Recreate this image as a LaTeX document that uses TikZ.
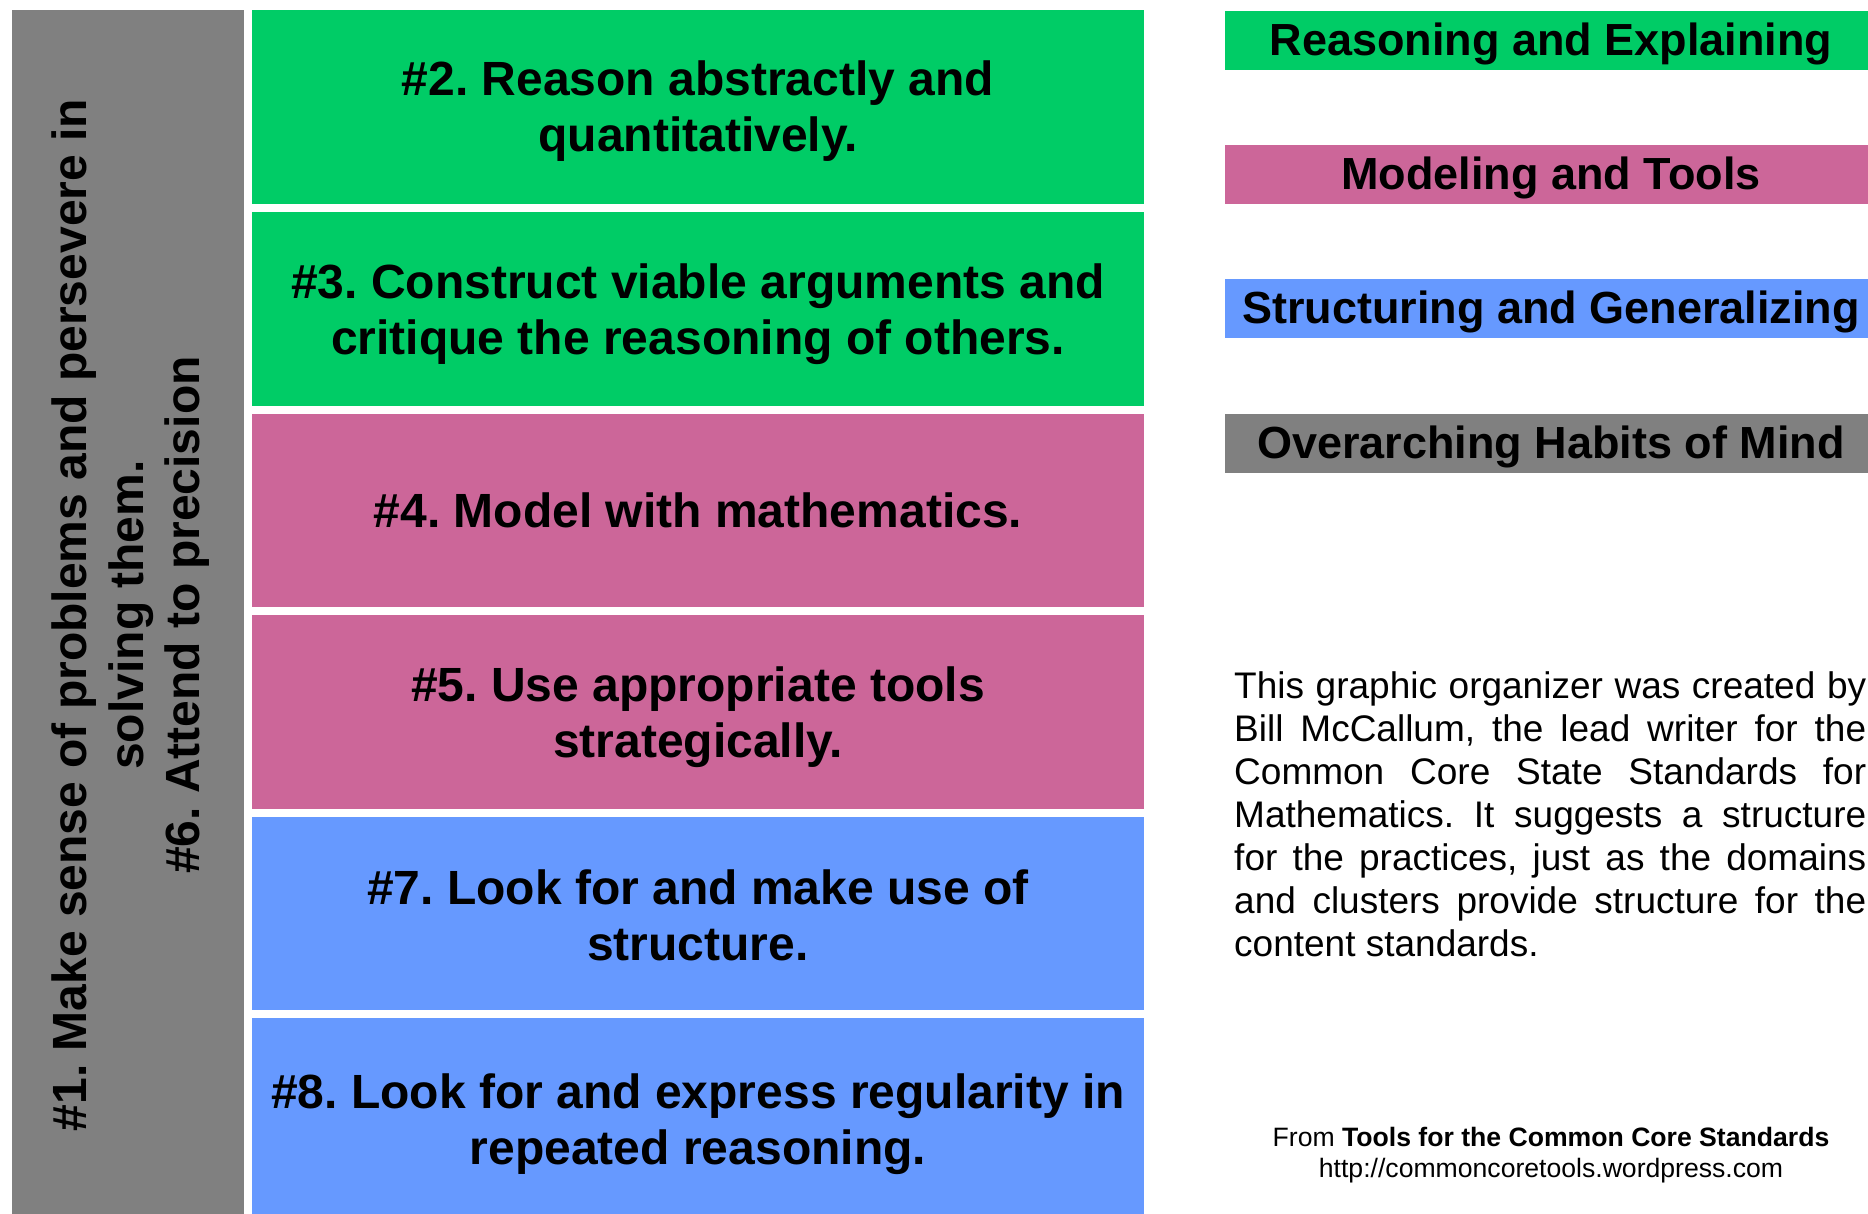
\documentclass[tikz,border=0pt]{standalone}
\usepackage{fontspec}
\setmainfont{Liberation Sans}
\frenchspacing
\definecolor{cgreen}{HTML}{00CC66}
\definecolor{cpink}{HTML}{CC6699}
\definecolor{cblue}{HTML}{6699FF}
\definecolor{cgray}{HTML}{808080}
\begin{document}
\frenchspacing
\begin{tikzpicture}[x=1pt,y=-1pt,
  practice/.style={rectangle, inner sep=0pt, minimum width=892pt, minimum height=194pt},
  ptext/.style={inner sep=0pt, align=center, font=\fontsize{48}{56}\selectfont\bfseries\frenchspacing},
  legbox/.style={rectangle, inner sep=0pt, minimum width=652pt, minimum height=59pt},
  legtext/.style={inner sep=0pt, font=\fontsize{45}{52}\selectfont\bfseries},
  habitbox/.style={rectangle, inner sep=0pt, minimum width=232pt, minimum height=1220pt, fill=cgray}]
\useasboundingbox (0,0) rectangle (1868,1214);
\clip (0,0) rectangle (1868,1214);
% left overarching column
\node[habitbox, anchor=north west] (habits) at (12,10) {};
\node[rotate=90, align=center, inner sep=0pt, font=\fontsize{48}{56.5}\selectfont\bfseries\frenchspacing] (habtext) at (131,615)
  {\#1. Make sense of problems and persevere in\\solving them.\\\#6. Attend to precision};
% practices
\node[practice, fill=cgreen] (p2) at (698,107) {};
\node[practice, fill=cgreen] (p3) at (698,309) {};
\node[practice, fill=cpink, minimum height=193pt] (p4) at (698,510.5) {};
\node[practice, fill=cpink] (p5) at (698,712) {};
\node[practice, fill=cblue, minimum height=193pt] (p7) at (698,913.5) {};
\node[practice, fill=cblue, minimum height=200pt] (p8) at (698,1118) {};
\node[ptext] (t2) at ([yshift=-4.5pt]p2.center) {\#2. Reason abstractly and\\quantitatively.};
\node[ptext] (t3) at ([yshift=-5pt]p3.center) {\#3. Construct viable arguments and\\critique the reasoning of others.};
\node[ptext] (t4) at ([yshift=0pt]p4.center) {\#4. Model with mathematics.};
\node[ptext] (t5) at ([yshift=-5pt]p5.center) {\#5. Use appropriate tools\\strategically.};
\node[ptext] (t7) at ([yshift=-2pt]p7.center) {\#7. Look for and make use of\\structure.};
\node[ptext] (t8) at ([yshift=-6pt]p8.center) {\#8. Look for and express regularity in\\repeated reasoning.};
% legend
\node[legbox, fill=cgreen] (lg) at (1551,40.5) {};
\node[legbox, fill=cpink] (lp) at (1551,174.5) {};
\node[legbox, fill=cblue] (lb) at (1551,308.5) {};
\node[legbox, fill=cgray] (lh) at (1551,443.5) {};
\node[legtext] (lgt) at ([yshift=-3.5pt]lg.center) {Reasoning and Explaining};
\node[legtext] (lpt) at ([yshift=-3.5pt]lp.center) {Modeling and Tools};
\node[legtext] (lbt) at ([yshift=-3.5pt]lb.center) {Structuring and Generalizing};
\node[legtext] (lht) at ([yshift=-3.5pt]lh.center) {Overarching Habits of Mind};
% description
\node[anchor=north west, inner sep=0pt, text width=632pt, align=justify,
  font=\fontsize{37}{43}\selectfont\frenchspacing] (desc) at (1234,671)
  {\tolerance=10000\hyphenpenalty=10000 This graphic organizer was created by\linebreak Bill McCallum, the lead writer for the\linebreak Common Core State Standards for\linebreak Mathematics. It suggests a structure\linebreak for the practices, just as the domains\linebreak and clusters provide structure for the\linebreak content standards.};
% source
\node[align=center, inner sep=0pt, font=\fontsize{26.6}{31}\selectfont] (src) at (1551,1155.5)
  {From \textbf{Tools for the Common Core Standards}\\http://commoncoretools.wordpress.com};
\end{tikzpicture}
\end{document}
